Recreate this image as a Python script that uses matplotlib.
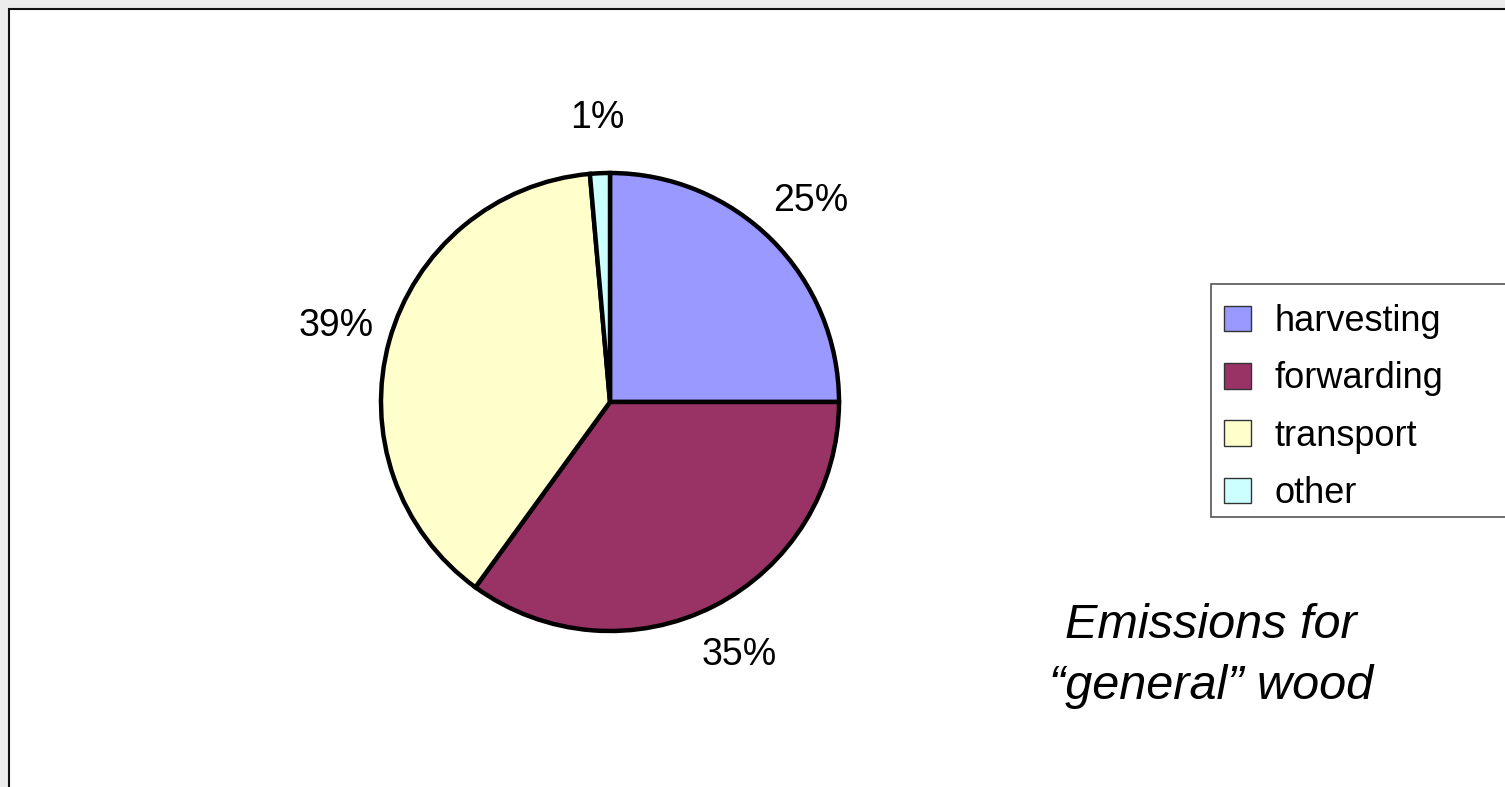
import matplotlib
matplotlib.use("Agg")
import matplotlib.pyplot as plt
from matplotlib.patches import Rectangle, Patch

plt.rcParams['font.family'] = ['Liberation Sans', 'DejaVu Sans']

categories = ['harvesting', 'forwarding', 'transport', 'other']
shares = [25.0, 35.0, 38.6, 1.4]
colors = ['#9999FF', '#993366', '#FFFFCC', '#CCFFFF']
title = 'Emissions for\n\u201cgeneral\u201d wood'

W, H = 1505, 787
fig = plt.figure(figsize=(W / 100, H / 100), dpi=100, facecolor='#ececec')

# white panel with black frame on top/left
fig.patches.append(Rectangle((9 / W, -0.1), 1.2, (H - 9) / H + 0.1,
                             transform=fig.transFigure, facecolor='white',
                             edgecolor='#111111', linewidth=1.5, zorder=-5))

# pie axes: centre (610, 402) px, radius 229 px
cx, cy, r = 610, 402, 229
ax = fig.add_axes([(cx - r) / W, (H - cy - r) / H, 2 * r / W, 2 * r / H])
ax.set_zorder(2)
wedges, texts, autotexts = ax.pie(
    shares, colors=colors, startangle=90, counterclock=False,
    autopct=lambda p: '%.0f%%' % p, pctdistance=1.24,
    wedgeprops=dict(edgecolor='black', linewidth=3.2),
    textprops=dict(fontsize=27, color='black'))
ax.set_xlim(-1, 1)
ax.set_ylim(-1, 1)
ax.axis('off')

# legend box runs off the right edge, as in the original
fig.patches.append(Rectangle((1211 / W, 1 - 517 / H), 0.3, 233 / H,
                             transform=fig.transFigure, facecolor='white',
                             edgecolor='#555555', linewidth=1.2, zorder=-1))
handles = [Patch(facecolor=c, edgecolor='#333333', linewidth=1) for c in colors]
leg = fig.legend(handles, categories, loc='upper left',
                 bbox_to_anchor=(1224 / W, 1 - 304 / H),
                 fontsize=26, frameon=False,
                 handlelength=0.75, handleheight=0.72, handletextpad=0.65,
                 labelspacing=0.62, borderpad=0, borderaxespad=0)

fig.text(1211 / W, 1 - 656 / H, title, fontsize=35, style='italic',
         ha='center', va='center', linespacing=1.44)

fig.savefig('out.png', dpi=100, facecolor=fig.get_facecolor())
